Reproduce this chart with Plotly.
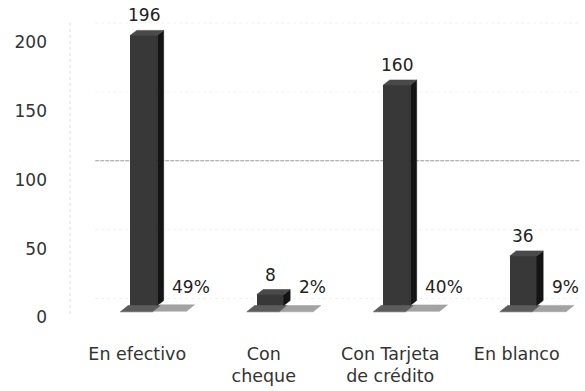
import plotly.graph_objects as go

# Payment method counts and their share of the total
categories = ["En efectivo", "Con<br>cheque", "Con Tarjeta<br>de crédito", "En blanco"]
counts = [196, 8, 160, 36]
percents = [49, 2, 40, 9]
y_ticks = [0, 50, 100, 150, 200]

# Pseudo-3D geometry (axis units)
BAR_OFF = 0.052      # centre of the front face relative to the category
BAR_W = 0.213        # width of the front face
SIDE_DX = 0.05       # depth of the side face
TOP_DY = 3.6         # rise of the top face
FLOOR_FRONT = -4.6   # front edge of the floor slabs
FLOOR_DX = 0.062     # slant of the floor slabs
DARK_L, SPLIT, LIGHT_R = -0.134, 0.12, 0.39
WALL_DY = 5.0        # back-wall gridlines sit a little higher

FONT = "DejaVu Sans"
FRONT, SIDE, TOP = "#383838", "#141414", "#4a4a4a"
FLOOR_DARK, FLOOR_LIGHT = "#5c5c5c", "#a2a2a2"

xs = list(range(len(categories)))
shares = [p / 100 for p in percents]


def poly_trace(polys, color):
    px, py = [], []
    for pts in polys:
        for a, b in pts + [pts[0]]:
            px.append(a)
            py.append(b)
        px.append(None)
        py.append(None)
    return go.Scatter(x=px, y=py, mode="lines", fill="toself", fillcolor=color,
                      line=dict(width=0.6, color=color), hoverinfo="skip",
                      showlegend=False)


dark_floor, light_floor, sides, tops = [], [], [], []
for i, v, s in zip(xs, counts, shares):
    dark_floor.append([(i + DARK_L, FLOOR_FRONT), (i + SPLIT, FLOOR_FRONT),
                       (i + SPLIT + FLOOR_DX, 0), (i + DARK_L + FLOOR_DX, 0)])
    light_floor.append([(i + SPLIT, FLOOR_FRONT + s), (i + LIGHT_R, FLOOR_FRONT + s),
                        (i + LIGHT_R + FLOOR_DX, s), (i + SPLIT + FLOOR_DX, s)])
    xl = i + BAR_OFF - BAR_W / 2
    xr = i + BAR_OFF + BAR_W / 2
    sides.append([(xr, 0), (xr + SIDE_DX, TOP_DY), (xr + SIDE_DX, v + TOP_DY), (xr, v)])
    tops.append([(xl, v), (xr, v), (xr + SIDE_DX, v + TOP_DY), (xl + SIDE_DX, v + TOP_DY)])

fig = go.Figure()
fig.add_trace(poly_trace(light_floor, FLOOR_LIGHT))
fig.add_trace(poly_trace(dark_floor, FLOOR_DARK))
fig.add_trace(go.Bar(x=[i + BAR_OFF for i in xs], y=counts, width=BAR_W,
                     marker=dict(color=FRONT, line=dict(width=0)),
                     hoverinfo="skip", showlegend=False))
fig.add_trace(poly_trace(sides, SIDE))
fig.add_trace(poly_trace(tops, TOP))

# Back-wall gridlines
for t in y_ticks:
    strong = t == 100
    fig.add_shape(type="line", xref="paper", yref="y", x0=0.042, x1=1,
                  y0=t + WALL_DY, y1=t + WALL_DY, layer="below",
                  line=dict(color="#999999" if strong else "#efefef",
                            width=1, dash="4px,1px" if strong else "dot"))
fig.add_shape(type="line", xref="paper", yref="y", x0=-0.008, x1=-0.008,
              y0=-6, y1=200 + WALL_DY, layer="below",
              line=dict(color="#dcdcdc", width=1, dash="dot"))

# Value labels
for i, v, p, s in zip(xs, counts, percents, shares):
    fig.add_annotation(x=i + BAR_OFF, y=v + TOP_DY, text=str(v), showarrow=False,
                       xanchor="center", yanchor="bottom", yshift=3,
                       font=dict(family=FONT, size=17, color="#222"))
    fig.add_annotation(x=i + 0.26, y=s, text=f"{p}%", showarrow=False,
                       xanchor="left", yanchor="bottom", yshift=6,
                       font=dict(family=FONT, size=17, color="#222"))

fig.update_layout(
    width=585, height=391,
    margin=dict(l=74, r=5, t=22, b=51),
    plot_bgcolor="white", paper_bgcolor="white",
    font=dict(family=FONT, size=17, color="#333"),
    bargap=0,
    xaxis=dict(range=[-0.5, 3.5], tickvals=xs, ticktext=categories,
               showgrid=False, zeroline=False, showline=False, ticks="",
               ticklabelstandoff=10, tickfont=dict(family=FONT, size=17.5, color="#333")),
    yaxis=dict(range=[-18.5, 205.7], tickvals=y_ticks, showgrid=False,
               zeroline=False, showline=False, ticks="",
               ticklabelstandoff=26, ticklabelshift=12,
               tickfont=dict(family=FONT, size=17, color="#333")),
)

fig.write_html("out.html")
